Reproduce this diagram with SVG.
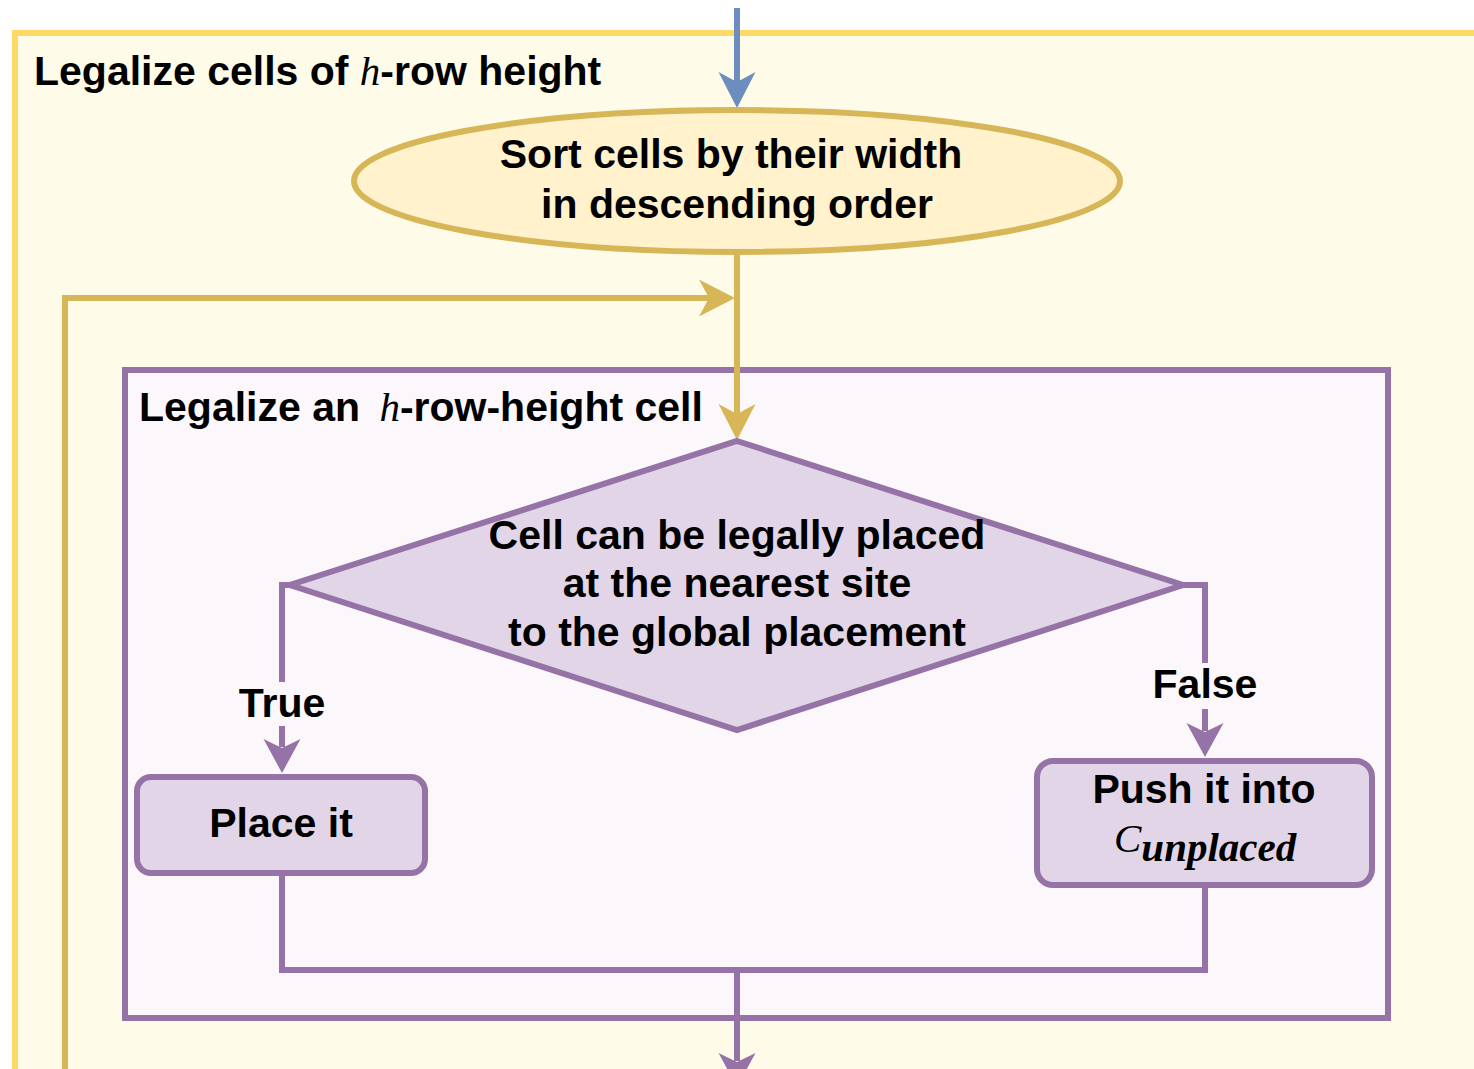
<svg xmlns="http://www.w3.org/2000/svg" width="1474" height="1069" viewBox="0 0 1474 1069">
  <style>
    .lbl { font-family: "Liberation Sans", Arial, sans-serif; font-weight: bold; font-size: 41px; fill: #000; }
    .mid { text-anchor: middle; }
    .math { font-family: "Liberation Serif", "Times New Roman", serif; font-style: italic; font-weight: normal; }
    .wire { fill: none; stroke-width: 6; }
    .gold { stroke: #D6B656; }
    .blue { stroke: #6C8EBF; }
    .purple { stroke: #9673A6; }
    .shape { fill: #E1D5E7; stroke: #9673A6; stroke-width: 6; }
  </style>
  <defs>
    <marker id="arrBlue" viewBox="-37 -20 38 40" markerUnits="userSpaceOnUse" markerWidth="38" markerHeight="40" refX="-26" refY="0" orient="auto">
      <path d="M0,0 L-36,-18.5 L-26,0 L-36,18.5 Z" fill="#6C8EBF"/>
    </marker>
    <marker id="arrGold" viewBox="-37 -20 38 40" markerUnits="userSpaceOnUse" markerWidth="38" markerHeight="40" refX="-26" refY="0" orient="auto">
      <path d="M0,0 L-36,-18.5 L-26,0 L-36,18.5 Z" fill="#D6B656"/>
    </marker>
    <marker id="arrPurple" viewBox="-37 -20 38 40" markerUnits="userSpaceOnUse" markerWidth="38" markerHeight="40" refX="-26" refY="0" orient="auto">
      <path d="M0,0 L-34,-18.5 L-25,0 L-34,18.5 Z" fill="#9673A6"/>
    </marker>
  </defs>

  <rect width="1474" height="1069" fill="#FFFFFF"/>

  <!-- outer container: legalize all cells of h-row height -->
  <g id="outer-container">
    <rect x="15" y="33" width="1500" height="1100" fill="#FEFCE8" stroke="#FFD966" stroke-width="6"/>
    <text class="lbl" x="34" y="85">Legalize cells of <tspan class="math">h</tspan>-row height</text>
  </g>

  <!-- inner container: legalize one cell -->
  <g id="inner-container">
    <rect x="125" y="370" width="1263" height="648" fill="#FBF7FB" stroke="#9673A6" stroke-width="6"/>
    <text class="lbl" x="139" y="421">Legalize an <tspan class="math" dx="8">h</tspan>-row-height cell</text>
  </g>

  <g id="connectors">
    <path class="wire blue" d="M737,8 V82" marker-end="url(#arrBlue)"/>
    <path class="wire gold" d="M737,253 V414" marker-end="url(#arrGold)"/>
    <path class="wire gold" d="M65,1080 V298 H709" marker-end="url(#arrGold)"/>
    <path class="wire purple" d="M290,585 H282 V747" marker-end="url(#arrPurple)"/>
    <path class="wire purple" d="M1183,585 H1205 V731" marker-end="url(#arrPurple)"/>
    <path class="wire purple" d="M282,873 V970 H1205 V885"/>
    <path class="wire purple" d="M737,970 V1061" marker-end="url(#arrPurple)"/>
    <!-- branch labels sit on a patch of the container fill -->
    <rect x="236" y="682" width="92" height="44" fill="#FBF7FB"/>
    <text class="lbl mid" x="282" y="717">True</text>
    <rect x="1150" y="663" width="110" height="46" fill="#FBF7FB"/>
    <text class="lbl mid" x="1205" y="698">False</text>
  </g>

  <g id="sort-cells">
    <ellipse cx="737" cy="181" rx="383" ry="71" fill="#FFF2CC" stroke="#D6B656" stroke-width="6"/>
    <text class="lbl mid" x="731" y="168">Sort cells by their width</text>
    <text class="lbl mid" x="737" y="218">in descending order</text>
  </g>

  <g id="can-place">
    <polygon class="shape" points="737,441 1183,585 737,730 290,585"/>
    <text class="lbl mid" x="737" y="549">Cell can be legally placed</text>
    <text class="lbl mid" x="737" y="597">at the nearest site</text>
    <text class="lbl mid" x="737" y="646">to the global placement</text>
  </g>

  <g id="place-it">
    <rect class="shape" x="137" y="777" width="288" height="96" rx="14"/>
    <text class="lbl mid" x="281" y="837">Place it</text>
  </g>

  <g id="push-unplaced">
    <rect class="shape" x="1037" y="761" width="335" height="124" rx="16"/>
    <text class="lbl mid" x="1204" y="803">Push it into</text>
    <text class="lbl math" x="1114" y="852">C<tspan font-weight="bold" font-size="41" dy="9">unplaced</tspan></text>
  </g>
</svg>
